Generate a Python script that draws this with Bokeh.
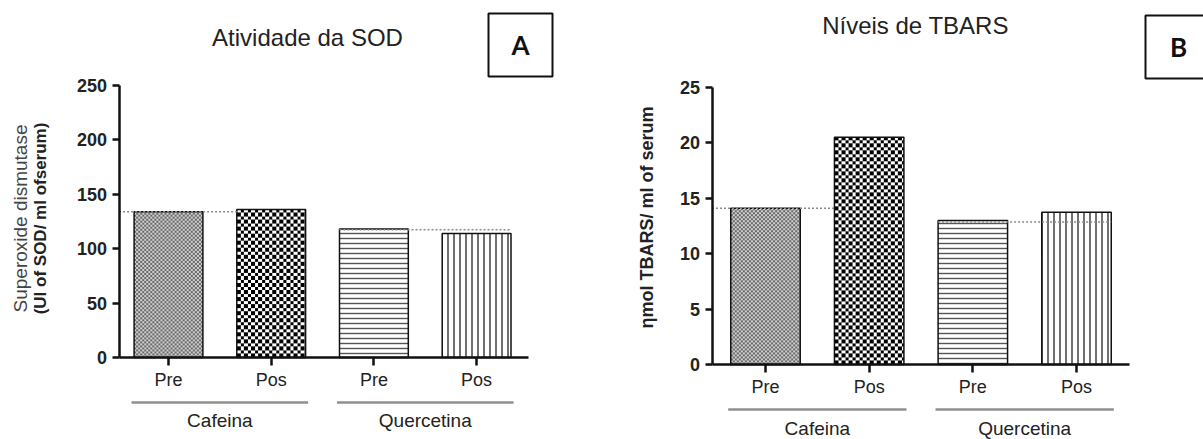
import math

import numpy as np
from bokeh.core.properties import value
from bokeh.embed import file_html
from bokeh.layouts import row
from bokeh.models import BoxAnnotation, FixedTicker, Range1d
from bokeh.plotting import figure
from bokeh.resources import INLINE

# ---------------- data ----------------
groups = ["Cafeina", "Quercetina"]
group_members = [[0, 1], [2, 3]]
times = ["Pre", "Pos", "Pre", "Pos"]

sod_values = [134, 136, 118, 114]
sod_ref = [134, 117.5]
sod_ticks = [0, 50, 100, 150, 200, 250]

tbars_values = [14.1, 20.5, 13.0, 13.75]
tbars_ref = [14.1, 12.85]
tbars_ticks = [0, 5, 10, 15, 20, 25]

FONT = "Liberation Sans"

# ---------------- fill styles ----------------
# bars 0 and 1: checkerboard textures (drawn as images clipped to bar extent)
# bars 2 and 3: line hatches
bar_styles = [
    dict(kind="checker", cell=2.0, dark=105, light=208),
    dict(kind="checker", cell=3.5, dark=0, light=255),
    dict(kind="hatch", hatch_pattern="horizontal_line", hatch_scale=5,
         hatch_weight=1.4, hatch_color="#555555"),
    dict(kind="hatch", hatch_pattern="vertical_line", hatch_scale=6,
         hatch_weight=1.3, hatch_color="#222222"),
]


def checker_img(wpx, hpx, cell, dark, light):
    yy, xx = np.mgrid[0:hpx, 0:wpx]
    mask = ((np.floor(xx / cell) + np.floor(yy / cell)) % 2) == 0
    g = np.where(mask, dark, light).astype(np.uint32)
    return (np.uint32(255) << 24) | (g << 16) | (g << 8) | g


def panel(W, H, g, values, ref, ticks, title, letter, ylabels):
    fx = lambda px: (px - g["cat0"]) / g["step"]
    fy = lambda py: (g["zero"] - py) / g["unit"]

    p = figure(width=W, height=H,
               x_range=Range1d(fx(0), fx(W)), y_range=Range1d(fy(H), fy(0)),
               output_backend="svg", toolbar_location=None, min_border=0,
               outline_line_color=None, background_fill_color="white",
               border_fill_color="white")
    p.grid.visible = False

    xs = list(range(len(values)))
    bw = 0.67

    # bars
    for i in xs:
        st = bar_styles[i]
        if st["kind"] == "checker":
            wpx = max(1, int(round(bw * g["step"])))
            hpx = max(1, int(round(values[i] * g["unit"])))
            img = checker_img(wpx, hpx, st["cell"], st["dark"], st["light"])
            p.image_rgba(image=[img], x=xs[i] - bw / 2, y=0, dw=bw, dh=values[i])
            p.vbar(x=[xs[i]], top=[values[i]], bottom=0, width=bw,
                   fill_color=None, line_color="#111111", line_width=1.5)
        else:
            kw = {k: v for k, v in st.items() if k != "kind"}
            p.vbar(x=[xs[i]], top=[values[i]], bottom=0, width=bw, fill_color="white",
                   line_color="#111111", line_width=1.5, **kw)

    # dotted reference lines
    ax0 = fx(g["axis_x"])
    p.segment(x0=[ax0, xs[2] - bw / 2], x1=[xs[1] - bw / 2, xs[3] + bw / 2],
              y0=ref, y1=ref, line_color="#8a8a8a", line_width=1.5, line_dash="2 2")

    # axes
    xa = p.xaxis[0]
    xa.fixed_location = 0
    xa.bounds = (ax0, fx(g["axis_end"]))
    xa.ticker = FixedTicker(ticks=xs)
    xa.major_label_overrides = {i: t for i, t in enumerate(times)}
    xa.minor_tick_line_color = None
    xa.major_tick_in = 0
    xa.major_tick_out = 8
    xa.major_label_standoff = 4
    xa.axis_line_width = 2.5
    xa.major_tick_line_width = 2.5
    xa.axis_line_color = "#111111"
    xa.major_tick_line_color = "#111111"
    xa.major_label_text_font = FONT
    xa.major_label_text_font_size = "18px"
    xa.major_label_text_color = "#222222"

    ya = p.yaxis[0]
    ya.fixed_location = ax0
    ya.bounds = (0, ticks[-1])
    ya.ticker = FixedTicker(ticks=ticks)
    ya.minor_tick_line_color = None
    ya.major_tick_in = 0
    ya.major_tick_out = 7
    ya.major_label_standoff = 5
    ya.axis_line_width = 2.5
    ya.major_tick_line_width = 2.5
    ya.axis_line_color = "#111111"
    ya.major_tick_line_color = "#111111"
    ya.major_label_text_font = FONT
    ya.major_label_text_font_size = "18px"
    ya.major_label_text_font_style = "bold"
    ya.major_label_text_color = "#222222"

    # group lines and labels
    centers = [sum(m) / len(m) for m in group_members]
    gy = fy(g["zero"] + g["gline"])
    p.segment(x0=[c - 0.86 for c in centers], x1=[c + 0.86 for c in centers],
              y0=[gy] * len(centers), y1=[gy] * len(centers),
              line_color="#8f8f8f", line_width=2.5)
    p.text(x=centers, y=[fy(g["zero"] + g["glabel"])] * len(centers), text=groups,
           text_align="center", text_baseline="middle", text_font=value(FONT),
           text_font_size="19px", text_color="#222222")

    # title
    p.text(x=[fx(g["title"][0])], y=[fy(g["title"][1])], text=[title],
           text_align="center", text_baseline="middle", text_font=value(FONT),
           text_font_size="24px", text_color="#222222")

    # letter box
    bx0, by0, bx1, by1 = g["box"]
    p.add_layout(BoxAnnotation(left=fx(bx0), right=fx(bx1), top=fy(by0), bottom=fy(by1),
                               fill_color=None, fill_alpha=0, line_color="#111111",
                               line_alpha=1, line_width=2))
    p.text(x=[fx(g["letter_x"])], y=[fy((by0 + by1) / 2)],
           text=[letter], text_align="center", text_baseline="middle",
           text_font=value("Lato"), text_font_style="bold", text_font_size="26px",
           text_color="#111111")

    # y-axis labels
    for (lx, txt, size, style, col) in ylabels:
        p.text(x=[fx(lx)], y=[fy(g["ylab_y"])], text=[txt], angle=math.pi / 2,
               text_align="center", text_baseline="middle", text_font=value(FONT),
               text_font_size=size, text_font_style=style, text_color=col)
    return p


geo_a = dict(cat0=168, step=102.7, axis_x=118.6, axis_end=528, zero=357, unit=272 / 250,
             gline=45, glabel=63, title=(307, 37), box=(488, 13, 552, 76), letter_x=520,
             ylab_y=218)
geo_b = dict(cat0=165, step=103.67, axis_x=111.5, axis_end=529, zero=364, unit=277 / 25,
             gline=45, glabel=64, title=(315, 25), box=(545, 15, 612, 78), letter_x=578,
             ylab_y=217)

p1 = panel(600, 439, geo_a, sod_values, sod_ref, sod_ticks, "Atividade da SOD", "A",
           [(20, "Superoxide dismutase", "19px", "normal", "#444444"),
            (40, "(UI of SOD/ ml ofserum)", "17px", "bold", "#222222")])
p2 = panel(603, 439, geo_b, tbars_values, tbars_ref, tbars_ticks, "Níveis de TBARS", "B",
           [(46, "ηmol TBARS/ ml of serum", "18px", "bold", "#222222")])

layout = row(p1, p2)
open("out.html", "w").write(file_html(layout, INLINE))
